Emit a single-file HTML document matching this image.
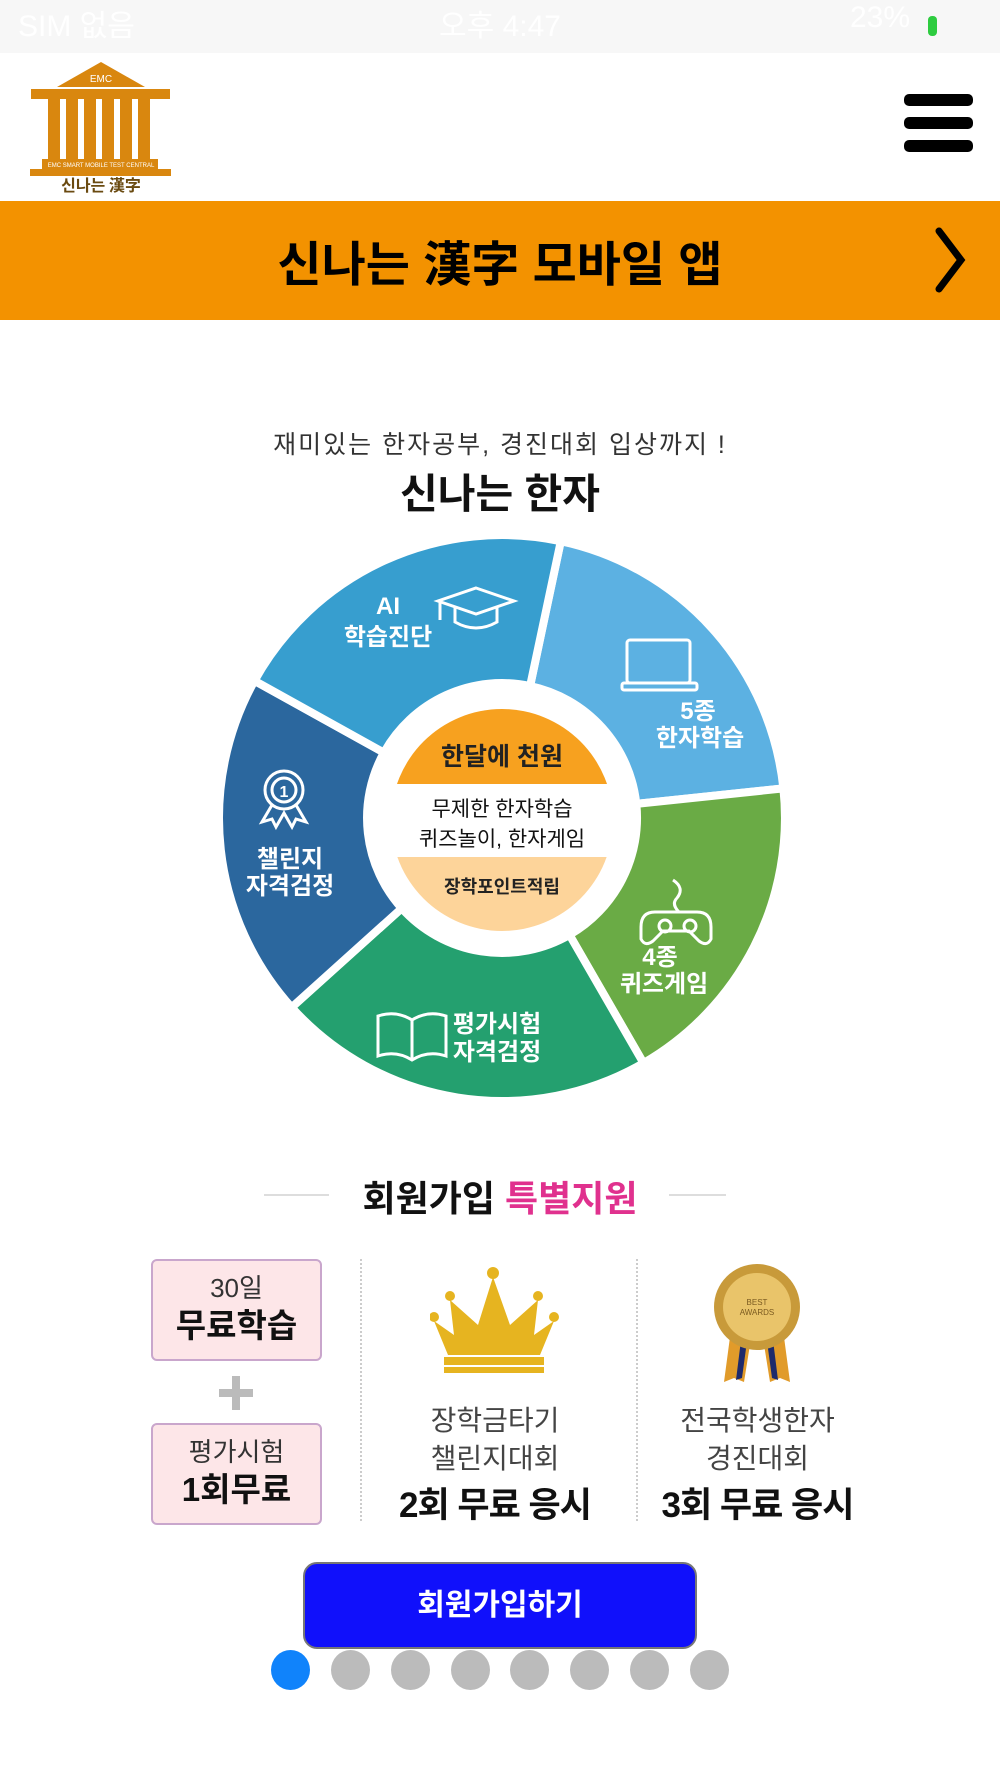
<!DOCTYPE html>
<html><head><meta charset="utf-8"><style>
*{margin:0;padding:0;box-sizing:border-box}
body{width:1000px;height:1778px;background:#fff;position:relative;overflow:hidden;font-family:"Liberation Sans","Noto Sans CJK KR",sans-serif}
.a{position:absolute}
.c{text-align:center}
</style></head><body>
<div class="a" style="left:0;top:0;width:1000px;height:53px;background:#f7f7f7"></div>
<div class="a" style="left:18px;top:1px;font-size:30px;color:#fff">SIM 없음</div>
<div class="a c" style="left:420px;top:1px;width:160px;font-size:30px;color:#fff">오후 4:47</div>
<div class="a" style="left:850px;top:1px;font-size:30px;color:#fff">23%</div>
<div class="a" style="left:928px;top:16px;width:9px;height:20px;border-radius:4px;background:#2ecc40"></div>

<!-- logo -->
<svg class="a" style="left:28px;top:60px" width="145" height="135" viewBox="0 0 145 135">
<polygon points="73,2 117,27 29,27" fill="#d9870f"/>
<text x="73" y="22" font-size="10" fill="#fff" text-anchor="middle" font-family="Liberation Sans">EMC</text>
<rect x="3" y="29" width="139" height="10" fill="#d9870f"/>
<rect x="20" y="39" width="12" height="60" fill="#d9870f"/><rect x="38" y="39" width="12" height="60" fill="#d9870f"/>
<rect x="56" y="39" width="12" height="60" fill="#d9870f"/><rect x="74" y="39" width="12" height="60" fill="#d9870f"/>
<rect x="92" y="39" width="12" height="60" fill="#d9870f"/><rect x="110" y="39" width="12" height="60" fill="#d9870f"/>
<rect x="14" y="99" width="116" height="10" fill="#d9870f"/>
<text x="73" y="107" font-size="6" fill="#fff" text-anchor="middle">EMC SMART MOBILE TEST CENTRAL</text>
<rect x="2" y="109" width="141" height="7" fill="#d9870f"/>
<text x="73" y="131" font-size="16" fill="#6a4a10" text-anchor="middle" font-weight="bold" font-family="Noto Sans CJK KR">신나는 漢字</text>
</svg>
<div class="a" style="left:904px;top:94px;width:69px;height:12px;border-radius:5px;background:#000"></div>
<div class="a" style="left:904px;top:117px;width:69px;height:12px;border-radius:5px;background:#000"></div>
<div class="a" style="left:904px;top:140px;width:69px;height:12px;border-radius:5px;background:#000"></div>

<div class="a" style="left:0;top:201px;width:1000px;height:119px;background:#f39200"></div>
<div class="a c" style="left:0;top:236px;width:1000px;font-size:48px;font-weight:bold;color:#000;line-height:60px">신나는 漢字 모바일 앱</div>
<svg class="a" style="left:930px;top:225px" width="40" height="70"><polyline points="9,6 31,35 9,64" fill="none" stroke="#000" stroke-width="7" stroke-linecap="round"/></svg>

<div class="a c" style="left:0;top:425px;width:1000px;font-size:25px;color:#333;letter-spacing:2px">재미있는 한자공부, 경진대회 입상까지 !</div>
<div class="a c" style="left:0;top:460px;width:1000px;font-size:41px;font-weight:bold;color:#111">신나는 한자</div>

<svg class="a" style="left:0;top:0" width="1000" height="1200">
<defs><clipPath id="cc"><circle cx="502" cy="820" r="111"/></clipPath></defs>
<g stroke="#fff" stroke-width="8">
<path d="M560.8,541.2 A283,283 0 0 1 783.4,788.4 L636.3,803.9 A135,135 0 0 0 530.1,686 Z" fill="#5cb1e2"/>
<path d="M783.4,788.4 A283,283 0 0 1 643.5,1063.1 L569.5,934.9 A135,135 0 0 0 636.3,803.9 Z" fill="#6aab45"/>
<path d="M643.5,1063.1 A283,283 0 0 1 291.7,1007.4 L401.7,908.3 A135,135 0 0 0 569.5,934.9 Z" fill="#24a06f"/>
<path d="M291.7,1007.4 A283,283 0 0 1 254.5,680.8 L383.9,752.6 A135,135 0 0 0 401.7,908.3 Z" fill="#2b679e"/>
<path d="M254.5,680.8 A283,283 0 0 1 560.8,541.2 L530.1,686 A135,135 0 0 0 383.9,752.6 Z" fill="#379ecf"/>
</g>
<g clip-path="url(#cc)">
<rect x="380" y="700" width="250" height="84" fill="#f7a11f"/>
<rect x="380" y="784" width="250" height="73" fill="#fff"/>
<rect x="380" y="857" width="250" height="90" fill="#fdd49a"/>
</g>
<g fill="none" stroke="#fff" stroke-width="3">
<polygon points="476,588 514,601 476,614 438,601"/><path d="M455,607 v15 q21,12 42,0 v-15"/><line x1="440" y1="602" x2="440" y2="620"/>
<rect x="627" y="640" width="63" height="43" rx="3"/><rect x="622" y="683" width="75" height="7" rx="2"/>
<path d="M673,880 q12,8 4,18 q-6,6 2,14 M655,912 h42 q14,0 14,15 l0,12 q-4,8 -12,2 l-10,-10 h-26 l-10,10 q-8,6 -12,-2 l0,-12 q0,-15 14,-15 Z"/>
<circle cx="665" cy="926" r="6"/><circle cx="690" cy="926" r="6"/>
<path d="M378,1016 q18,-6 34,4 q16,-10 34,-4 v40 q-18,-6 -34,4 q-16,-10 -34,-4 Z M412,1020 v40"/>
<circle cx="284" cy="790" r="19"/><circle cx="284" cy="790" r="12"/><path d="M272,805 l-10,17 l10,-3 l4,8 l8,-14 l8,14 l4,-8 l10,3 l-10,-17"/>
</g>
<text x="284" y="797" fill="#fff" font-size="16" font-weight="bold" text-anchor="middle">1</text>
<g fill="#fff" font-size="24" font-weight="bold" text-anchor="middle" font-family="Liberation Sans,Noto Sans CJK KR,sans-serif">
<text x="388" y="614">AI</text><text x="388" y="645">학습진단</text>
<text x="698" y="719">5종</text><text x="700" y="746">한자학습</text>
<text x="660" y="965">4종</text><text x="664" y="992">퀴즈게임</text>
<text x="497" y="1032">평가시험</text><text x="497" y="1060">자격검정</text>
<text x="290" y="867">챌린지</text><text x="290" y="894">자격검정</text>
</g>
<g text-anchor="middle" font-family="Liberation Sans,Noto Sans CJK KR,sans-serif">
<text x="502" y="765" font-size="25" font-weight="bold" fill="#222">한달에 천원</text>
<text x="502" y="816" font-size="21" fill="#111">무제한  한자학습</text>
<text x="502" y="846" font-size="21" fill="#111">퀴즈놀이, 한자게임</text>
<text x="502" y="893" font-size="18" font-weight="bold" fill="#222">장학포인트적립</text>
</g>
</svg>

<div class="a" style="left:264px;top:1194px;width:65px;height:2px;background:#ddd"></div>
<div class="a" style="left:669px;top:1194px;width:57px;height:2px;background:#ddd"></div>
<div class="a c" style="left:0;top:1170px;width:1000px;font-size:36px;font-weight:bold;color:#111">회원가입 <span style="color:#e0318e">특별지원</span></div>

<div class="a c" style="left:151px;top:1259px;width:171px;height:102px;background:#fde6e8;border:2px solid #c9a6cc;border-radius:6px;padding-top:10px">
<div style="font-size:26px;color:#333;line-height:34px">30일</div><div style="font-size:33px;font-weight:bold;color:#111;line-height:42px">무료학습</div></div>
<div class="a" style="left:219px;top:1389px;width:34px;height:8px;background:#bbb"></div>
<div class="a" style="left:232px;top:1376px;width:8px;height:34px;background:#bbb"></div>
<div class="a c" style="left:151px;top:1423px;width:171px;height:102px;background:#fde6e8;border:2px solid #c9a6cc;border-radius:6px;padding-top:10px">
<div style="font-size:26px;color:#333;line-height:34px">평가시험</div><div style="font-size:33px;font-weight:bold;color:#111;line-height:42px">1회무료</div></div>
<div class="a" style="left:360px;top:1259px;height:262px;border-left:2px dotted #ccc"></div>
<div class="a" style="left:636px;top:1259px;height:262px;border-left:2px dotted #ccc"></div>

<svg class="a" style="left:430px;top:1265px" width="130" height="110">
<g fill="#e6b420"><circle cx="63" cy="8" r="6"/><circle cx="20" cy="31" r="5"/><circle cx="108" cy="31" r="5"/><circle cx="4" cy="52" r="5"/><circle cx="124" cy="52" r="5"/>
<path d="M63,12 L80,60 L108,35 L104,70 L124,56 L110,90 L18,90 L4,56 L24,70 L20,35 L48,60 Z"/>
<rect x="14" y="92" width="100" height="8"/><rect x="14" y="102" width="100" height="6"/></g></svg>
<svg class="a" style="left:712px;top:1262px" width="90" height="125">
<path d="M20,60 l-8,60 l10,-4 l10,4 l8,-50 Z" fill="#e19b2a"/><path d="M70,60 l8,60 l-10,-4 l-10,4 l-8,-50 Z" fill="#e19b2a"/>
<path d="M30,70 l-6,48 l6,-2 l6,-44Z" fill="#1e2a6b"/><path d="M60,70 l6,48 l-6,-2 l-6,-44Z" fill="#1e2a6b"/>
<circle cx="45" cy="45" r="43" fill="#c89a3a"/><circle cx="45" cy="45" r="34" fill="#e9c46a"/>
<text x="45" y="43" font-size="8" fill="#7a5a20" text-anchor="middle">BEST</text><text x="45" y="53" font-size="8" fill="#7a5a20" text-anchor="middle">AWARDS</text></svg>

<div class="a c" style="left:370px;top:1402px;width:250px;font-size:28px;color:#444;line-height:38px">장학금타기<br>챌린지대회</div>
<div class="a c" style="left:360px;top:1477px;width:270px;font-size:35px;font-weight:bold;color:#111;letter-spacing:-1px">2회 무료 응시</div>
<div class="a c" style="left:630px;top:1402px;width:255px;font-size:28px;color:#444;line-height:38px">전국학생한자<br>경진대회</div>
<div class="a c" style="left:630px;top:1477px;width:255px;font-size:35px;font-weight:bold;color:#111;letter-spacing:-1px">3회 무료 응시</div>

<div class="a c" style="left:303px;top:1562px;width:394px;height:87px;background:#1010fb;border:2px solid #777;border-radius:14px;color:#fff;font-size:30px;font-weight:bold;line-height:83px">회원가입하기</div>
<div class="a" style="left:271px;top:1650px;width:39px;height:40px;border-radius:50%;background:#1083fb"></div>
<div class="a" style="left:331px;top:1650px;width:39px;height:40px;border-radius:50%;background:#bbb"></div>
<div class="a" style="left:391px;top:1650px;width:39px;height:40px;border-radius:50%;background:#bbb"></div>
<div class="a" style="left:451px;top:1650px;width:39px;height:40px;border-radius:50%;background:#bbb"></div>
<div class="a" style="left:510px;top:1650px;width:39px;height:40px;border-radius:50%;background:#bbb"></div>
<div class="a" style="left:570px;top:1650px;width:39px;height:40px;border-radius:50%;background:#bbb"></div>
<div class="a" style="left:630px;top:1650px;width:39px;height:40px;border-radius:50%;background:#bbb"></div>
<div class="a" style="left:690px;top:1650px;width:39px;height:40px;border-radius:50%;background:#bbb"></div>
</body></html>
